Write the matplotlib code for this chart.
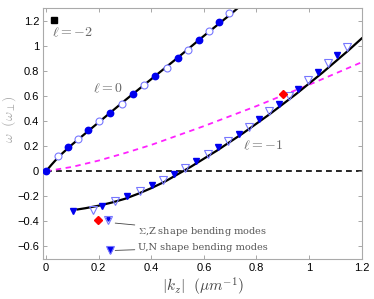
import matplotlib
matplotlib.use('Agg')
import matplotlib.pyplot as plt

plt.rcParams['mathtext.fontset'] = 'cm'
plt.rcParams['font.family'] = ['Liberation Sans', 'DejaVu Sans']

# l = 0 branch
k_l0_line = [0, 0.02, 0.05, 0.1, 0.2, 0.3, 0.4, 0.5, 0.6, 0.7, 0.75]
w_l0_line = [0, 0.05, 0.12, 0.215, 0.39, 0.565, 0.735, 0.905, 1.08, 1.25, 1.34]
k_l0_fill = [0, 0.085, 0.161, 0.244, 0.33, 0.415, 0.50, 0.582, 0.659]
w_l0_fill = [0, 0.19, 0.33, 0.467, 0.614, 0.76, 0.90, 1.045, 1.19]
k_l0_open = [0.047, 0.121, 0.202, 0.288, 0.373, 0.459, 0.541, 0.621, 0.697]
w_l0_open = [0.12, 0.26, 0.40, 0.54, 0.686, 0.827, 0.97, 1.12, 1.26]

# l = -1 branch
k_l1_line = [0.12, 0.15, 0.2, 0.25, 0.3, 0.35, 0.4, 0.45, 0.5, 0.55, 0.6, 0.65,
             0.7, 0.75, 0.8, 0.85, 0.9, 0.95, 1.0, 1.05, 1.1, 1.15, 1.2]
w_l1_line = [-0.305, -0.295, -0.275, -0.25, -0.22, -0.18, -0.135, -0.085, -0.025,
             0.035, 0.10, 0.165, 0.235, 0.305, 0.38, 0.455, 0.535, 0.615, 0.70,
             0.785, 0.875, 0.965, 1.06]
k_l1_fill = [0.102, 0.212, 0.307, 0.402, 0.487, 0.570, 0.655, 0.735, 0.811, 0.887,
             0.959, 1.035, 1.108]
w_l1_fill = [-0.314, -0.274, -0.2, -0.106, -0.02, 0.08, 0.19, 0.294, 0.414, 0.534,
             0.659, 0.792, 0.926]
k_l1_open = [0.18, 0.263, 0.358, 0.446, 0.529, 0.617, 0.693, 0.773, 0.849, 0.925,
             0.997, 1.073, 1.143]
w_l1_open = [-0.306, -0.234, -0.154, -0.072, 0.027, 0.134, 0.24, 0.355, 0.48, 0.6,
             0.726, 0.862, 0.99]

# magenta dashed curve
k_mag = [0, 0.1, 0.2, 0.3, 0.4, 0.5, 0.6, 0.7, 0.8, 0.9, 1.0, 1.1, 1.2]
w_mag = [0, 0.035, 0.085, 0.145, 0.21, 0.285, 0.36, 0.44, 0.52, 0.605, 0.69, 0.78, 0.87]

# single markers
k_red = [0.902, 0.199]
w_red = [0.62, -0.386]
k_sq, w_sq = 0.029, 1.21

xticks = [0, 0.2, 0.4, 0.6, 0.8, 1, 1.2]
xtick_labels = ['0', '0.2', '0.4', '0.6', '0.8', '1', '1.2']
yticks = [-0.6, -0.4, -0.2, 0, 0.2, 0.4, 0.6, 0.8, 1, 1.2]
ytick_labels = ['\u22120.6', '\u22120.4', '\u22120.2', '0', '0.2', '0.4', '0.6', '0.8', '1', '1.2']

fig = plt.figure(figsize=(3.74, 2.99), dpi=100)
ax = fig.add_axes([0.116, 0.134, 0.851, 0.838])

blue = '#0000ee'
light = '#7777ff'

ax.plot([0, 1.2], [0, 0], color='black', ls=(0, (3.5, 2.5)), lw=1.2, zorder=1)
ax.plot(k_mag, w_mag, color='#ff22ff', ls=(0, (3, 2.5)), lw=1.3, zorder=1)
ax.plot(k_l0_line, w_l0_line, color='black', lw=1.6, zorder=2)
ax.plot(k_l1_line, w_l1_line, color='black', lw=1.6, zorder=2)

ax.plot(k_l0_fill, w_l0_fill, 'o', color=blue, ms=4.6, mec=blue, zorder=3)
ax.plot(k_l0_open, w_l0_open, 'o', mfc='white', mec=light, ms=5, mew=0.8, zorder=3)
ax.plot(k_l1_fill, w_l1_fill, 'v', color=blue, ms=5, mec=blue, zorder=3)
ax.plot(k_l1_open, w_l1_open, 'v', mfc='none', mec=light, ms=5.5, mew=0.8, zorder=3)

ax.plot(k_red, w_red, 'D', color='red', ms=4, zorder=4)
ax.plot(k_sq, w_sq, 's', color='black', ms=4.5, zorder=4)

# legend-like markers
ax.plot(0.237, -0.386, 'v', mfc='none', mec=light, ms=5.5, mew=0.8, zorder=4)
ax.plot(0.237, -0.381, 'v', color=blue, ms=2.5, zorder=4)
ax.plot(0.244, -0.627, 'v', color=blue, ms=3.8, zorder=4)
ax.plot(0.244, -0.627, 'v', mfc='none', mec=light, ms=5.5, mew=0.8, zorder=4)

tcol = '#555555'
ax.annotate(r'$\Sigma$,Z shape bending modes', xy=(0.263, -0.414), xytext=(0.348, -0.48),
            fontsize=7, family='DejaVu Serif', color=tcol, va='center', ha='left',
            arrowprops=dict(arrowstyle='-', color='#444444', lw=0.6, shrinkA=0, shrinkB=0))
ax.annotate('U,N shape bending modes', xy=(0.263, -0.632), xytext=(0.348, -0.608),
            fontsize=7, family='DejaVu Serif', color=tcol, va='center', ha='left',
            arrowprops=dict(arrowstyle='-', color='#444444', lw=0.6, shrinkA=0, shrinkB=0))

lcol = '#666666'
ax.text(0.022, 1.107, r'$\ell=-2$', fontsize=10, color=lcol, va='center', ha='left')
ax.text(0.18, 0.66, r'$\ell=0$', fontsize=10, color=lcol, va='center', ha='left')
ax.text(0.748, 0.206, r'$\ell=-1$', fontsize=10, color=lcol, va='center', ha='left')

ax.set_xlim(-0.01, 1.2)
ax.set_ylim(-0.7, 1.3)
ax.set_xticks(xticks)
ax.set_xticklabels(xtick_labels)
ax.set_yticks(yticks)
ax.set_yticklabels(ytick_labels)
ax.tick_params(direction='in', top=True, right=True, length=3, width=0.6,
               color='#999999', labelsize=8, pad=3)
for s in ax.spines.values():
    s.set_color('#aaaaaa')
    s.set_linewidth(0.8)

ax.set_xlabel(r'$|k_z|\ \ (\mu m^{-1})$', fontsize=11, color='#444444', labelpad=2)
ax.set_ylabel(r'$\omega\ \ (\omega_\perp)$', fontsize=10, color='#aaaaaa', labelpad=2)
ax.yaxis.set_label_coords(-0.08, 0.56)

fig.savefig('out.png', dpi=100)
